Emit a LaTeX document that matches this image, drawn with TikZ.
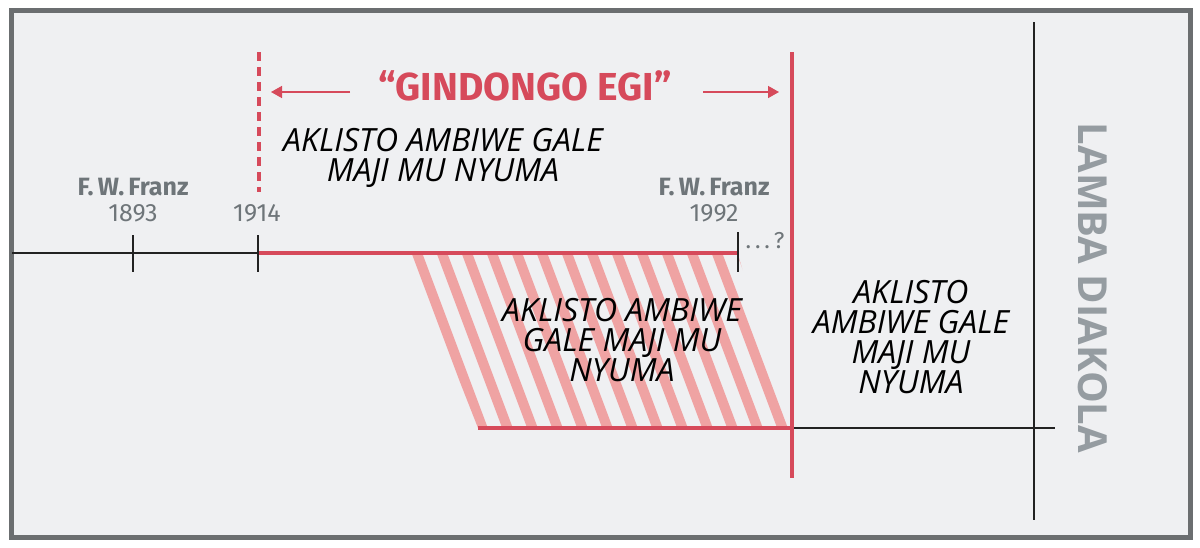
\documentclass[tikz,border=0pt]{standalone}
\usepackage{fontspec}
\setmainfont{Open Sans}
\newfontfamily\labfont{Fira Sans}
\usetikzlibrary{arrows.meta,calc}
\definecolor{bgc}{HTML}{EFF0F2}
\definecolor{framec}{HTML}{6B6E70}
\definecolor{redc}{HTML}{D64A5B}
\definecolor{pinkc}{HTML}{EFA3A3}
\definecolor{grayt}{HTML}{6E7579}
\definecolor{grayl}{HTML}{959CA1}
\definecolor{blk}{HTML}{222222}
\tikzset{
  redline/.style={draw=redc, line width=4pt},
  blkline/.style={draw=blk, line width=2pt},
  tick/.style={draw=blk, line width=2pt},
  arr/.style={draw=redc, line width=1.5pt, -{Triangle[length=11pt,width=12pt]}},
  ital/.style={font=\fontsize{32}{30}\selectfont\itshape, text=black, align=center, inner sep=0pt},
  who/.style={font=\labfont\fontsize{25}{26}\selectfont\bfseries, text=grayt, inner sep=0pt},
  year/.style={font=\labfont\fontsize{25}{26}\selectfont, text=grayt, inner sep=0pt},
}
\begin{document}
\begin{tikzpicture}[x=1pt,y=-1pt]
\useasboundingbox (0,0) rectangle (1200,547);
\fill[white] (0,0) rectangle (1200,547);
\draw[draw=framec, fill=bgc, line width=5pt] (11,10) rectangle (1190,537);

% coordinates
\coordinate (L) at (12,253);
\coordinate (t1) at (133,253);
\coordinate (t2) at (258,253);
\coordinate (t3) at (738,253);
\coordinate (Rv) at (792,52);
\coordinate (Rb) at (792,478);
\coordinate (Bl) at (478,428);
\coordinate (Bm) at (792,428);
\coordinate (Br) at (1055,428);
\coordinate (Dt) at (1034,22);
\coordinate (Db) at (1034,520);
\coordinate (dvt) at (259,52);
\coordinate (dvb) at (259,192);

% hatched parallelogram
\begin{scope}
\clip (410,255) -- (738,255) -- (792,428) -- (478,428) -- cycle;
\foreach \i in {0,...,16} {
  \draw[pinkc, line width=10pt] ({412+25*\i},240) -- ({412+25*\i+75},440);
}
\end{scope}

% main timeline
\draw[blkline] (L) -- (t2);
\draw[redline] (t2) -- (t3);
\draw[tick] ($(t1)+(0,-18)$) -- ($(t1)+(0,19)$);
\draw[tick] ($(t2)+(0,-18)$) -- ($(t2)+(0,19)$);
\draw[tick] ($(t3)+(0,-21)$) -- ($(t3)+(0,19)$);

% lower line
\draw[redline] (Bl) -- (Bm);
\draw[blkline] (Bm) -- (Br);

% verticals
\draw[redc, line width=4pt, dash pattern=on 9pt off 6pt] (dvt) -- (dvb);
\draw[redline] (Rv) -- (Rb);
\draw[blk, line width=2.5pt] (Dt) -- (Db);

% title and arrows
\node[font=\labfont\fontsize{39}{40}\selectfont\bfseries, text=redc, inner sep=0pt] (title) at (525,86) {“GINDONGO EGI”};
\coordinate (a1s) at (350,92);
\coordinate (a1e) at (271,92);
\coordinate (a2s) at (703,92);
\coordinate (a2e) at (779,92);
\draw[arr] (a1s) -- (a1e);
\draw[arr] (a2s) -- (a2e);

% texts
\node[ital] (txt1) at (443,158) {AKLISTO AMBIWE GALE\\MAJI MU NYUMA};
\node[ital] (txt2) at (622,340) {AKLISTO AMBIWE\\GALE MAJI MU\\NYUMA};
\node[ital] (txt3) at (911,337) {AKLISTO\\AMBIWE GALE\\MAJI MU\\NYUMA};

\node[who] (w1) at (133,187) {F.\,W.\,Franz};
\node[year] (y1) at (133,213) {1893};
\node[year] (y2) at (257,213) {1914};
\node[who] (w2) at (714,187) {F.\,W.\,Franz};
\node[year] (y3) at (714,213) {1992};
\node[font=\labfont\fontsize{23}{23}\selectfont, text=grayt, inner sep=0pt] (q) at (765,241) {.\,.\,.\,?};

\node[font=\fontsize{40}{40}\selectfont\bfseries, text=grayl, rotate=-90, inner sep=0pt] (ld) at (1093,288) {LAMBA DIAKOLA};
\end{tikzpicture}
\end{document}
